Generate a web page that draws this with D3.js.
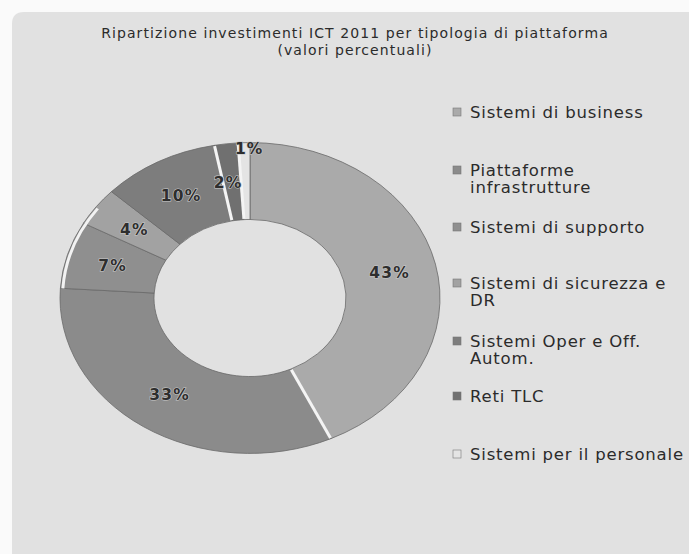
<!DOCTYPE html>
<html>
<head>
<meta charset="utf-8">
<script src="https://cdn.jsdelivr.net/npm/d3@7"></script>
<style>
  html, body { margin: 0; padding: 0; background: #fafafa; }
  svg { display: block; }
</style>
</head>
<body>
<svg id="chart" width="689" height="554"></svg>
<script>
// Ripartizione investimenti ICT 2011 (valori percentuali)
const categories = [
  "Sistemi di business",
  "Piattaforme infrastrutture",
  "Sistemi di supporto",
  "Sistemi di sicurezza e DR",
  "Sistemi Oper e Off. Autom.",
  "Reti TLC",
  "Sistemi per il personale"
];
const values = [43, 33, 7, 4, 10, 2, 1];
// legend text, split onto lines as they wrap in the legend column
const legendLines = [
  ["Sistemi di business"],
  ["Piattaforme", "infrastrutture"],
  ["Sistemi di supporto"],
  ["Sistemi di sicurezza e", "DR"],
  ["Sistemi Oper e Off.", "Autom."],
  ["Reti TLC"],
  ["Sistemi per il personale"]
];
const titleLines = [
  "Ripartizione investimenti ICT 2011 per tipologia di piattaforma",
  "(valori percentuali)"
];

const fills = ["#aaaaaa", "#8b8b8b", "#8f8f8f", "#a2a2a2", "#7d7d7d", "#707070", "#e4e4e4"];

const W = 689, H = 554;
const svg = d3.select("#chart");

// panel background with rounded top-left corner
svg.append("path")
  .attr("d", `M12,24 Q12,12 24,12 L${W},12 L${W},${H} L12,${H} Z`)
  .attr("fill", "#e1e1e1");

// title
const title = svg.append("text")
  .attr("x", 355).attr("y", 38)
  .attr("text-anchor", "middle")
  .attr("font-family", "DejaVu Sans, Verdana, sans-serif")
  .attr("font-size", 14)
  .attr("letter-spacing", 1.1)
  .attr("fill", "#2b2b2b");
title.selectAll("tspan").data(titleLines).join("tspan")
  .attr("x", 355)
  .attr("dy", (d, i) => i === 0 ? 0 : 17)
  .text(d => d);

// donut, drawn on a circle and flattened vertically
const cx = 250, cy = 298;
const R = 190, r = 96;
const squash = 0.818;

const pie = d3.pie().sort(null).value(d => d);
const arcs = pie(values);
const arc = d3.arc().innerRadius(r).outerRadius(R);

const ring = svg.append("g")
  .attr("transform", `translate(${cx},${cy}) scale(1,${squash})`);

ring.selectAll("path.slice").data(arcs).join("path")
  .attr("class", "slice")
  .attr("d", arc)
  .attr("fill", (d, i) => fills[i])
  .attr("stroke", "#6a6a6a")
  .attr("stroke-width", 0.8)
  .attr("vector-effect", "non-scaling-stroke");

// light separators at the edges of some slices
const sepAngles = [arcs[0].endAngle, arcs[4].endAngle, arcs[5].endAngle];
ring.selectAll("line.sep").data(sepAngles).join("line")
  .attr("class", "sep")
  .attr("x1", a => Math.sin(a) * (r + 1))
  .attr("y1", a => -Math.cos(a) * (r + 1))
  .attr("x2", a => Math.sin(a) * (R - 1))
  .attr("y2", a => -Math.cos(a) * (R - 1))
  .attr("stroke", "#f4f4f4")
  .attr("stroke-width", 3)
  .attr("vector-effect", "non-scaling-stroke");

// rim highlight on the left edge
const rim = d3.arc().innerRadius(R - 4).outerRadius(R - 1)
  .startAngle(arcs[2].startAngle).endAngle(arcs[3].startAngle + 0.12);
ring.append("path")
  .attr("d", rim())
  .attr("fill", "#f2f2f2");

// value labels
const labelArc = d3.arc().innerRadius((r + R) / 2).outerRadius((r + R) / 2);
const outerLabelArc = d3.arc().innerRadius(R * 0.965).outerRadius(R * 0.965);
svg.append("g")
  .selectAll("text").data(arcs).join("text")
  .attr("transform", (d, i) => {
    const c = (i === 6 ? outerLabelArc : labelArc).centroid(d);
    const dx = i === 6 ? 5 : (i === 5 ? -4 : 0);
    return `translate(${cx + c[0] + dx},${cy + c[1] * squash})`;
  })
  .attr("text-anchor", "middle")
  .attr("dy", "0.36em")
  .attr("font-family", "DejaVu Sans, Verdana, sans-serif")
  .attr("font-weight", "bold")
  .attr("font-size", 15.5)
  .attr("letter-spacing", 1.2)
  .attr("fill", "#2e2e2e")
  .attr("stroke", "#c8c8c8")
  .attr("stroke-width", 1.2)
  .attr("paint-order", "stroke")
  .text(d => d.data + "%");

// legend
const legendY = [112, 170, 227, 283, 341, 396, 454];
const legend = svg.append("g")
  .attr("font-family", "DejaVu Sans, Verdana, sans-serif")
  .attr("font-size", 16.5)
  .attr("letter-spacing", 0.8)
  .attr("fill", "#2b2b2b");

const item = legend.selectAll("g").data(categories).join("g")
  .attr("transform", (d, i) => `translate(453,${legendY[i]})`);

item.append("rect")
  .attr("x", 0).attr("y", -4)
  .attr("width", 8).attr("height", 8)
  .attr("fill", (d, i) => fills[i])
  .attr("stroke", "#777")
  .attr("stroke-width", 0.6);

item.append("text")
  .attr("x", 17)
  .selectAll("tspan").data((d, i) => legendLines[i]).join("tspan")
  .attr("x", 17)
  .attr("dy", (d, j) => j === 0 ? "0.35em" : 17.5)
  .text(d => d);
</script>
</body>
</html>
